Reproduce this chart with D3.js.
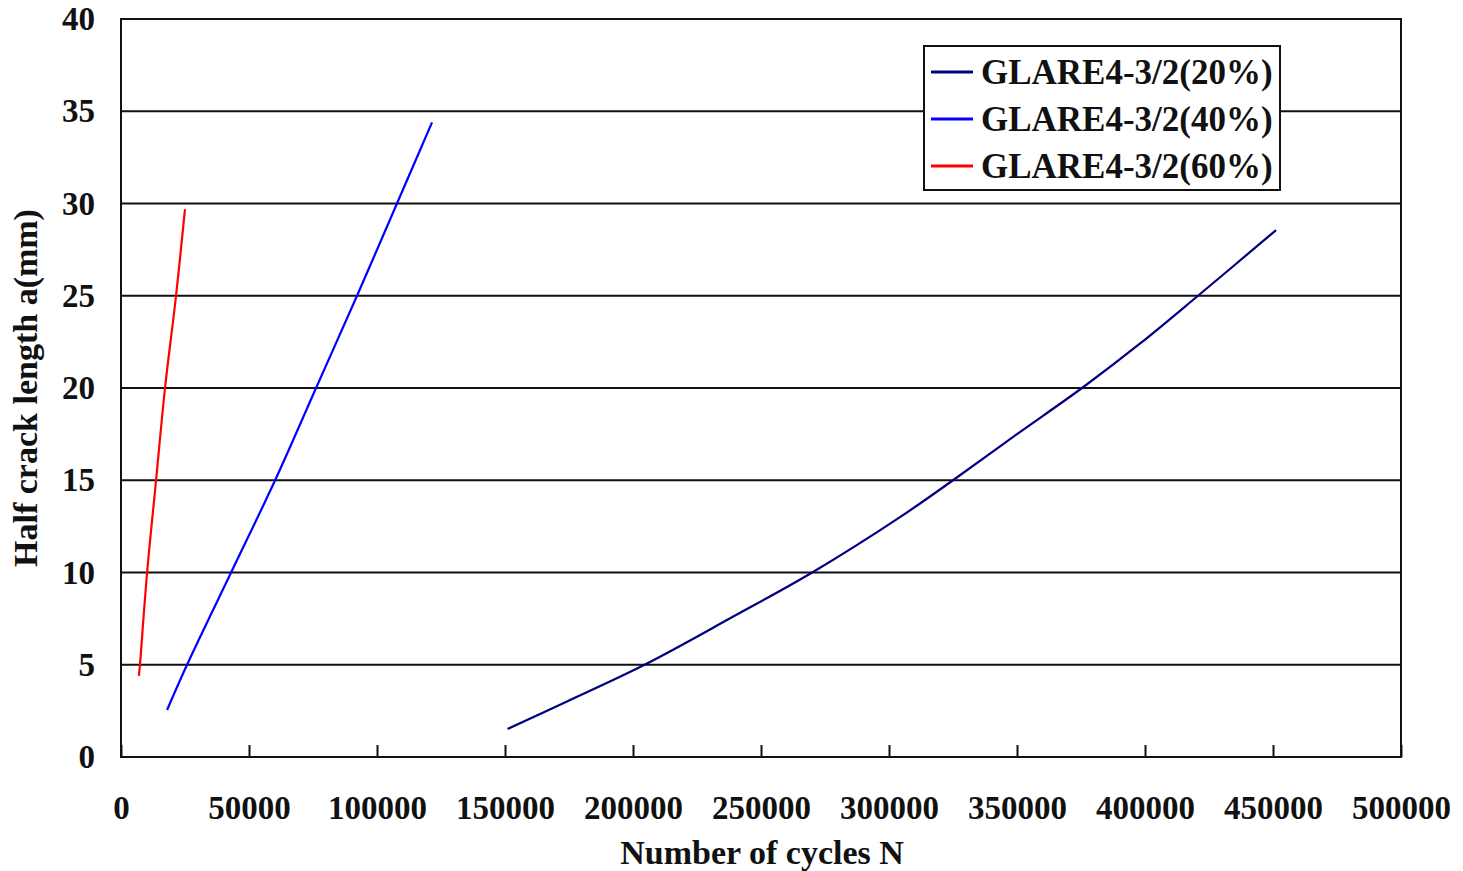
<!DOCTYPE html>
<html>
<head>
<meta charset="utf-8">
<script src="https://cdn.jsdelivr.net/npm/d3@7"></script>
<style>
  body { margin: 0; background: #fff; }
  text { font-family: "Liberation Serif", "Times New Roman", serif; font-weight: bold; fill: #111; }
</style>
</head>
<body>
<svg id="chart" width="1463" height="871"></svg>
<script>
// data
var xTicks = [ 0, 50000, 100000, 150000, 200000, 250000, 300000, 350000, 400000, 450000, 500000 ];
var yTicks = [ 0, 5, 10, 15, 20, 25, 30, 35, 40 ];

var series20N = [ 151000, 174000, 204500, 239000, 270000, 304300, 325000, 350000, 375400, 398000, 420700, 451200 ];
var series20A = [ 1.52, 3.0, 5.0, 7.6, 10.0, 13.0, 15.0, 17.5, 20.0, 22.4, 25.0, 28.56 ];

var series40N = [ 18000, 25800, 43000, 60200, 76200, 92200, 107800, 121500 ];
var series40A = [ 2.55, 5.0, 10.0, 15.0, 20.0, 25.0, 30.0, 34.4 ];

var series60N = [ 7000, 7400, 10200, 13700, 17200, 21500, 25000 ];
var series60A = [ 4.4, 5.0, 10.0, 15.0, 20.0, 25.0, 29.7 ];

var seriesNames = [ "GLARE4-3/2(20%)", "GLARE4-3/2(40%)", "GLARE4-3/2(60%)" ];
var seriesColors = [ "#000080", "#0000ff", "#ff0000" ];

var svg = d3.select( "#chart" );

var margin = { left: 121, right: 62, top: 19, bottom: 114 };
var width = 1463 - margin.left - margin.right;
var height = 871 - margin.top - margin.bottom;

var x = d3.scaleLinear().domain( [ 0, 500000 ] ).range( [ margin.left, margin.left + width ] );
var y = d3.scaleLinear().domain( [ 0, 40 ] ).range( [ margin.top + height, margin.top ] );

// gridlines
svg.append( "g" )
  .selectAll( "line" )
  .data( yTicks.slice( 1, -1 ) )
  .enter().append( "line" )
    .attr( "x1", x( 0 ) )
    .attr( "x2", x( 500000 ) )
    .attr( "y1", d => y( d ) )
    .attr( "y2", d => y( d ) )
    .attr( "stroke", "#111" )
    .attr( "stroke-width", 2 );

// frame
svg.append( "rect" )
  .attr( "x", x( 0 ) )
  .attr( "y", y( 40 ) )
  .attr( "width", x( 500000 ) - x( 0 ) )
  .attr( "height", y( 0 ) - y( 40 ) )
  .attr( "fill", "none" )
  .attr( "stroke", "#111" )
  .attr( "stroke-width", 2 );

// x axis, ticks pointing inward
var xAxis = svg.append( "g" )
  .attr( "transform", "translate(0," + y( 0 ) + ")" )
  .call( d3.axisBottom( x ).tickValues( xTicks ).tickSizeInner( -12 ).tickSizeOuter( 0 ).tickPadding( 39 ).tickFormat( d3.format( "d" ) ) );

xAxis.select( ".domain" ).remove();
xAxis.selectAll( ".tick line" ).attr( "stroke", "#111" ).attr( "stroke-width", 2 );
xAxis.selectAll( ".tick text" )
  .style( "font-size", "33px" )
  .attr( "font-family", null );

// y axis labels
var yAxis = svg.append( "g" )
  .attr( "transform", "translate(" + x( 0 ) + ",0)" )
  .call( d3.axisLeft( y ).tickValues( yTicks ).tickSize( 0 ).tickPadding( 26 ) );

yAxis.select( ".domain" ).remove();
yAxis.selectAll( ".tick text" )
  .style( "font-size", "33px" )
  .attr( "font-family", null );

// axis titles
svg.append( "text" )
  .attr( "x", 762 )
  .attr( "y", 864 )
  .attr( "text-anchor", "middle" )
  .style( "font-size", "34px" )
  .text( "Number of cycles N" );

svg.append( "text" )
  .attr( "transform", "translate(37," + 388 + ") rotate(-90)" )
  .attr( "text-anchor", "middle" )
  .style( "font-size", "34px" )
  .text( "Half crack length a(mm)" );

// series
var allSeries = [
  d3.zip( series20N, series20A ),
  d3.zip( series40N, series40A ),
  d3.zip( series60N, series60A )
];

var line = d3.line()
  .x( d => x( d[ 0 ] ) )
  .y( d => y( d[ 1 ] ) )
  .curve( d3.curveCatmullRom.alpha( 0.5 ) );

svg.append( "g" )
  .selectAll( "path" )
  .data( allSeries )
  .enter().append( "path" )
    .attr( "d", line )
    .attr( "fill", "none" )
    .attr( "stroke", ( d, i ) => seriesColors[ i ] )
    .attr( "stroke-width", 2.2 );

// legend
var legend = svg.append( "g" ).attr( "transform", "translate(924,46)" );

legend.append( "rect" )
  .attr( "width", 356 )
  .attr( "height", 144 )
  .attr( "fill", "#fff" )
  .attr( "stroke", "#111" )
  .attr( "stroke-width", 2 );

var items = legend.selectAll( "g.item" )
  .data( seriesNames )
  .enter().append( "g" )
    .attr( "class", "item" )
    .attr( "transform", ( d, i ) => "translate(0," + ( 26 + i * 47 ) + ")" );

items.append( "line" )
  .attr( "x1", 7 )
  .attr( "x2", 49 )
  .attr( "stroke", ( d, i ) => seriesColors[ i ] )
  .attr( "stroke-width", 3 );

items.append( "text" )
  .attr( "x", 57 )
  .attr( "dy", "0.35em" )
  .style( "font-size", "35px" )
  .text( d => d );
</script>
</body>
</html>
